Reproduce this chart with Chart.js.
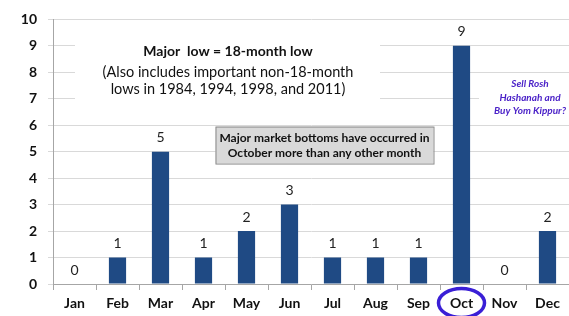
<!DOCTYPE html>
<html>
<head>
<meta charset="utf-8">
<script src="https://cdn.jsdelivr.net/npm/chart.js@4"></script>
<style>
  html, body { margin: 0; padding: 0; background: #fff; }
  #wrap { width: 569px; height: 316px; position: relative; }
</style>
</head>
<body>
<div id="wrap"><canvas id="chart"></canvas></div>
<script>
// --- Data ---
const months = ['Jan', 'Feb', 'Mar', 'Apr', 'May', 'Jun', 'Jul', 'Aug', 'Sep', 'Oct', 'Nov', 'Dec'];
const majorLows = [0, 1, 5, 1, 2, 3, 1, 1, 1, 9, 0, 2];
const yTicks = [0, 1, 2, 3, 4, 5, 6, 7, 8, 9, 10];

const titleLines = ['Major  low = 18-month low', '(Also includes important non-18-month', 'lows in 1984, 1994, 1998, and 2011)'];
const boxLines = ['Major market bottoms have occurred in', 'October more than any other month'];
const sideLines = ['Sell Rosh', 'Hashanah and', 'Buy Yom Kippur?'];
const circledMonth = 'Oct';

const FONT = 'Lato, "Open Sans", sans-serif';
const BAR = '#1f4a84';

// --- Annotation plugin: value labels, text boxes, circle ---
const annotations = {
    id: 'annotations',
    afterDraw(chart) {
        const ctx = chart.ctx;
        const x = chart.scales.x;
        const y = chart.scales.y;
        ctx.save();

        // value labels above bars
        const meta = chart.getDatasetMeta(0);
        ctx.fillStyle = '#222';
        ctx.font = '14px ' + FONT;
        ctx.textAlign = 'center';
        ctx.textBaseline = 'bottom';
        meta.data.forEach((bar, i) => {
            ctx.fillText(String(majorLows[i]), bar.x, bar.y - 7);
        });

        // main note (white background hides gridlines)
        const cx1 = (x.getPixelForValue(3) + x.getPixelForValue(4)) / 2 + 3;
        ctx.fillStyle = '#fff';
        ctx.fillRect(75, y.getPixelForValue(9.45), 305, y.getPixelForValue(6.7) - y.getPixelForValue(9.45));
        ctx.fillStyle = '#111';
        ctx.textBaseline = 'middle';
        ctx.font = 'bold 14px ' + FONT;
        ctx.fillText(titleLines[0], cx1, y.getPixelForValue(8.8));
        ctx.font = '14.5px ' + FONT;
        ctx.fillText(titleLines[1], cx1, y.getPixelForValue(8.0));
        ctx.fillText(titleLines[2], cx1, y.getPixelForValue(7.35));

        // grey box
        const bx = x.getPixelForValue(3) + 12;
        const bw = 218;
        const by = y.getPixelForValue(5.95);
        const bh = 37;
        ctx.fillStyle = '#d9d9d9';
        ctx.fillRect(bx, by, bw, bh);
        ctx.strokeStyle = '#8c8c8c';
        ctx.lineWidth = 1;
        ctx.strokeRect(bx + 0.5, by + 0.5, bw, bh);
        ctx.fillStyle = '#111';
        ctx.font = 'bold 12px ' + FONT;
        ctx.fillText(boxLines[0], bx + bw / 2, by + 12);
        ctx.fillText(boxLines[1], bx + bw / 2, by + 27);

        // side note
        const sx = (x.getPixelForValue(10) + x.getPixelForValue(11)) / 2 + 4;
        ctx.fillStyle = '#fff';
        ctx.fillRect(479, y.getPixelForValue(7.45), 90, y.getPixelForValue(6.2) - y.getPixelForValue(7.45));
        ctx.fillStyle = '#4b22c8';
        ctx.font = 'italic bold 10px ' + FONT;
        ctx.fillText(sideLines[0], sx, y.getPixelForValue(7.55));
        ctx.fillText(sideLines[1], sx, y.getPixelForValue(7.03));
        ctx.fillText(sideLines[2], sx, y.getPixelForValue(6.53));

        // circle round October
        const ox = x.getPixelForValue(months.indexOf(circledMonth));
        ctx.strokeStyle = '#3a1fd6';
        ctx.lineWidth = 3.5;
        ctx.beginPath();
        ctx.ellipse(ox, 303, 23, 14.5, 0, 0, Math.PI * 2);
        ctx.stroke();

        ctx.restore();
    }
};

new Chart(document.getElementById('chart'), {
    type: 'bar',
    data: {
        labels: months,
        datasets: [{
            data: majorLows,
            backgroundColor: BAR,
            borderWidth: 0,
            barPercentage: 0.4,
            categoryPercentage: 1.0
        }]
    },
    options: {
        responsive: true,
        maintainAspectRatio: false,
        animation: false,
        layout: { padding: { top: 19, right: 0, left: 0, bottom: 0 } },
        plugins: {
            legend: { display: false },
            tooltip: { enabled: false }
        },
        scales: {
            x: {
                grid: { drawOnChartArea: false, drawTicks: true, tickLength: 6, color: '#a6a6a6' },
                border: { color: '#a6a6a6' },
                ticks: { color: '#111', font: { family: FONT, size: 14, weight: 'bold' }, padding: 5 },
                afterFit: (s) => { s.height = 32; }
            },
            y: {
                min: 0,
                max: 10,
                afterBuildTicks: (s) => { s.ticks = yTicks.map(v => ({ value: v })); },
                grid: { color: '#d9d9d9', tickLength: 5, drawTicks: true },
                border: { color: '#a6a6a6' },
                ticks: { color: '#111', font: { family: FONT, size: 14, weight: 'bold' }, padding: 11 },
                afterFit: (s) => { s.width = 53; }
            }
        }
    },
    plugins: [annotations]
});
</script>
</body>
</html>
